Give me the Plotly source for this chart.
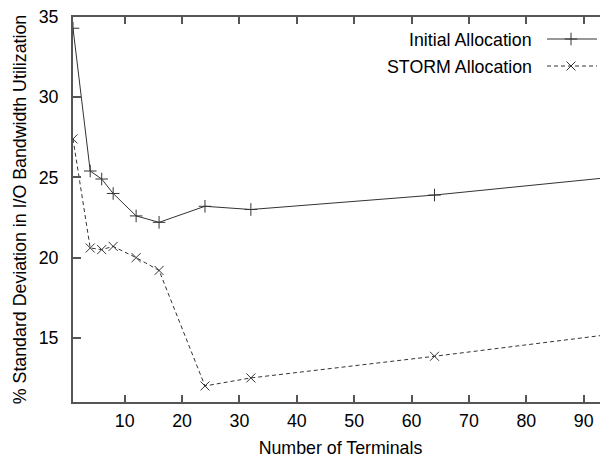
import plotly.graph_objects as go

terminals = [1, 4, 6, 8, 12, 16, 24, 32, 64, 128]
initial_alloc = [34.3, 25.4, 24.9, 24.0, 22.6, 22.2, 23.2, 23.0, 23.9, 26.2]
storm_alloc = [27.4, 20.6, 20.5, 20.7, 20.0, 19.2, 12.0, 12.5, 13.85, 16.7]
x_ticks = [10, 20, 30, 40, 50, 60, 70, 80, 90]
y_ticks = [15, 20, 25, 30, 35]
series_names = ["Initial Allocation", "STORM Allocation"]

FONT = "Liberation Sans"
LINE = "#333333"
AXIS = "#555555"
TXT = dict(family=FONT, size=17.8, color="#000")

# plot area in page pixels: x 73..608, y 17..402 (page body has 8px margin)
PL, PR, PT, PB = 73, 608, 17, 402


def px_x(v):
    return (v - PL) / (PR - PL)


def px_y(v):
    return 1 - (v - PT) / (PB - PT)


fig = go.Figure()
fig.add_trace(go.Scatter(
    x=terminals, y=initial_alloc, mode="lines+markers", name=series_names[0],
    line=dict(color=LINE, width=1),
    marker=dict(symbol="cross-thin-open", size=9, color=LINE, line=dict(color=LINE, width=1)),
    showlegend=False))
fig.add_trace(go.Scatter(
    x=terminals, y=storm_alloc, mode="lines+markers", name=series_names[1],
    line=dict(color=LINE, width=1, dash="4px,3px"),
    marker=dict(symbol="x-thin-open", size=9, color=LINE, line=dict(color=LINE, width=1)),
    showlegend=False))

# manual legend (text left of sample, like gnuplot)
leg_line_y = [39, 66]
leg_text_y = [40, 67]
for i, name in enumerate(series_names):
    fig.add_annotation(text=name, xref="paper", yref="paper",
                       x=px_x(534), y=px_y(leg_text_y[i]),
                       xanchor="right", yanchor="middle", showarrow=False,
                       font=TXT)
    fig.add_shape(type="line", xref="paper", yref="paper",
                  x0=px_x(547), x1=px_x(597),
                  y0=px_y(leg_line_y[i]), y1=px_y(leg_line_y[i]),
                  line=dict(color=LINE, width=1, dash="solid" if i == 0 else "4px,3px"))
fig.add_trace(go.Scatter(
    x=[px_x(571)] * 2, y=[px_y(v) for v in leg_line_y],
    xaxis="x2", yaxis="y2", mode="markers", showlegend=False, hoverinfo="skip",
    marker=dict(symbol=["cross-thin-open", "x-thin-open"], size=9, color=LINE,
                line=dict(color=LINE, width=1))))

fig.update_layout(
    width=600, height=450,
    margin=dict(l=PL - 8, r=0, t=PT - 8, b=458 - PB, autoexpand=False),
    paper_bgcolor="white", plot_bgcolor="white",
    font=TXT,
    xaxis=dict(range=[1, 94.24], tickvals=x_ticks, ticks="inside", ticklen=7,
               tickcolor=AXIS, tickwidth=1.5, showline=True, linecolor=AXIS,
               linewidth=2, mirror="ticks", showgrid=False, zeroline=False,
               ticklabelstandoff=2, tickfont=TXT, automargin=False,
               ticklabeloverflow="allow",
               title=dict(text="Number of Terminals", standoff=13, font=TXT)),
    yaxis=dict(range=[11, 35], tickvals=y_ticks, ticks="inside", ticklen=8,
               tickcolor=AXIS, tickwidth=1.5, showline=True, linecolor=AXIS,
               linewidth=2, showgrid=False, zeroline=False,
               ticklabelstandoff=9, tickfont=TXT, automargin=False,
               ticklabeloverflow="allow",
               title=dict(text="% Standard Deviation in I/O Bandwidth Utilization",
                          standoff=7, font=TXT)),
    xaxis2=dict(domain=[0, 1], range=[0, 1], visible=False, overlaying="x"),
    yaxis2=dict(domain=[0, 1], range=[0, 1], visible=False, overlaying="y"),
)

fig.write_html("out.html")
